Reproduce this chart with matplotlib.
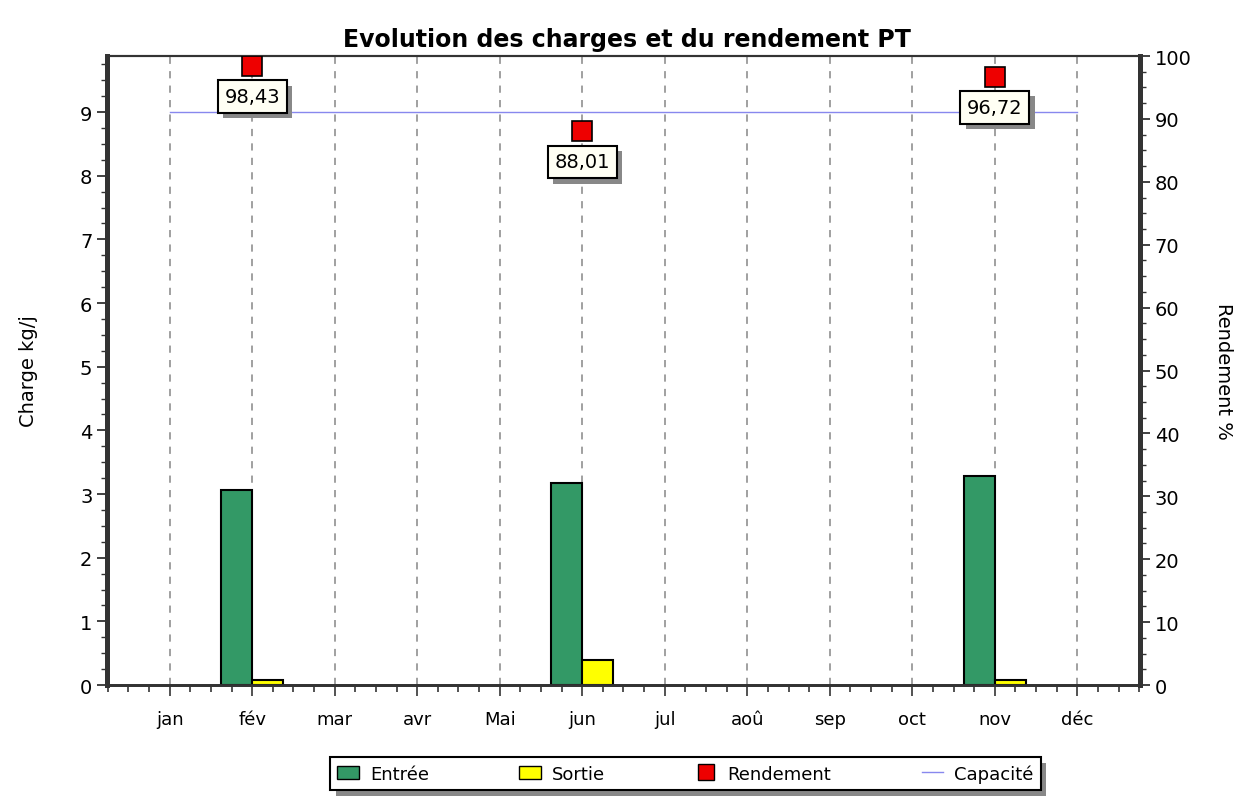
import matplotlib
matplotlib.use("Agg")
import matplotlib.pyplot as plt
import matplotlib.patheffects as pe
from matplotlib.ticker import MultipleLocator
from matplotlib.patches import Patch
from matplotlib.lines import Line2D
import numpy as np

months = ["jan", "fév", "mar", "avr", "Mai", "jun", "jul", "aoû", "sep", "oct", "nov", "déc"]
entree = [0, 3.07, 0, 0, 0, 3.17, 0, 0, 0, 0, 3.29, 0]
sortie = [0, 0.08, 0, 0, 0, 0.40, 0, 0, 0, 0, 0.08, 0]
rend_months = [1, 5, 10]
rendement = [98.43, 88.01, 96.72]
rend_labels = ["98,43", "88,01", "96,72"]
capacite = 9.0

plt.rcParams['font.family'] = ['DejaVu Sans']
fig = plt.figure(figsize=(12.53, 8.03), dpi=100)
ax = fig.add_axes([0.0854, 0.1457, 0.8244, 0.7833])
ax2 = ax.twinx()

x = np.arange(len(months))
w = 0.375
green = "#339966"
ent = np.array(entree, dtype=float)
sor = np.array(sortie, dtype=float)
me = ent > 0
ms = sor > 0
ax.bar(x[me] - w / 2, ent[me], width=w, color=green, edgecolor="black", linewidth=1.5, zorder=3)
ax.bar(x[ms] + w / 2, sor[ms], width=w, color="#FFFF00", edgecolor="black", linewidth=1.5, zorder=3)
ax.plot([x[0], x[-1]], [capacite, capacite], color="#8888EE", linewidth=1, zorder=2)

for m in x:
    ax.axvline(m, color="#999999", linestyle=(0, (4, 4)), linewidth=1.3, zorder=1)

ax.set_xlim(-0.76, 11.76)
ax.set_ylim(0, 9.88)
ax2.set_ylim(0, 100)

ax2.plot(rend_months, rendement, linestyle="none", marker="s", markersize=14,
         markerfacecolor="#EE0000", markeredgecolor="black", markeredgewidth=1.2, zorder=5)
for m, r, lab in zip(rend_months, rendement, rend_labels):
    ax2.annotate(lab, (m, r), xytext=(0, -22), textcoords="offset points",
                 ha="center", va="center", fontsize=14, zorder=6,
                 bbox=dict(boxstyle="square,pad=0.35", facecolor="#FFFFF4", edgecolor="black",
                           linewidth=1.5,
                           path_effects=[pe.SimplePatchShadow(offset=(4, -4), shadow_rgbFace="#888888", alpha=1.0), pe.Normal()]))

ax.set_xticks(x)
ax.set_xticklabels(months, fontsize=13)
ax.xaxis.set_minor_locator(MultipleLocator(0.25))
ax.yaxis.set_major_locator(MultipleLocator(1))
ax.yaxis.set_minor_locator(MultipleLocator(0.25))
ax2.yaxis.set_major_locator(MultipleLocator(10))
ax2.yaxis.set_minor_locator(MultipleLocator(2.5))

ax.tick_params(axis="x", which="major", length=8, width=1.3, labelsize=13, pad=10, color="#444444")
ax.tick_params(axis="x", which="minor", length=5, width=1.3, color="#444444")
ax.tick_params(axis="y", which="major", length=7, width=1.3, labelsize=14, color="#333333")
ax.tick_params(axis="y", which="minor", length=4, width=1.0, color="#333333")
ax2.tick_params(axis="y", which="major", length=7, width=1.3, labelsize=14, color="#333333")
ax2.tick_params(axis="y", which="minor", length=4, width=1.0, color="#333333")

for a in (ax, ax2):
    a.spines["left"].set_linewidth(3.5)
    a.spines["right"].set_linewidth(3.5)
    a.spines["bottom"].set_linewidth(2)
    a.spines["top"].set_linewidth(1.5)
    for s in a.spines.values():
        s.set_color("#333333")

ax.set_ylabel("Charge kg/j", fontsize=14, labelpad=30)
ax2.set_ylabel("Rendement %", fontsize=14, rotation=270, labelpad=30)
fig.suptitle("Evolution des charges et du rendement PT", fontsize=17, fontweight="bold", y=0.965)

handles = [
    Patch(facecolor=green, edgecolor="black"),
    Patch(facecolor="#FFFF00", edgecolor="black"),
    Line2D([], [], linestyle="none", marker="s", markersize=11, markerfacecolor="#EE0000", markeredgecolor="black"),
    Line2D([], [], color="#8888EE", linewidth=1),
]
leg = fig.legend(handles, ["Entrée", "Sortie", "Rendement", "Capacité"], loc="center",
                 bbox_to_anchor=(0.547, 0.0355), ncol=4, fontsize=13, frameon=True,
                 fancybox=False, columnspacing=5.0, handlelength=1.2, handletextpad=0.6,
                 borderpad=0.4, framealpha=1.0, facecolor="white")
fr = leg.get_frame()
fr.set_edgecolor("black")
fr.set_linewidth(1.5)
fr.set_path_effects([pe.SimplePatchShadow(offset=(4, -4), shadow_rgbFace="#888888", alpha=1.0), pe.Normal()])

fig.savefig("out.png", dpi=100)
